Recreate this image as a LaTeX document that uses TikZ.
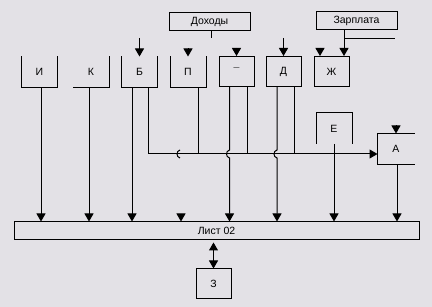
\documentclass[tikz,border=0pt]{standalone}
\usepackage{fontspec}
\setmainfont{Liberation Sans}
\usetikzlibrary{arrows.meta}
\definecolor{bg}{RGB}{227,225,230}
\begin{document}
\begin{tikzpicture}[x=1pt,y=-1pt,line width=1pt,
  font=\fontsize{10.5}{12}\selectfont,
  box/.style={minimum width=35pt,minimum height=30pt,inner sep=0pt},
  cbox/.style={box,draw},
  wbox/.style={draw,minimum width=81pt,minimum height=18pt,inner sep=0pt},
  arr/.style={-{Triangle[width=9pt,length=8pt]}},
  darr/.style={{Triangle[width=9pt,length=8pt]}-{Triangle[width=9pt,length=8pt]}}]
\fill[bg] (0,0) rectangle (432,307);
\useasboundingbox (0,0) rectangle (432,307);
% levels
\coordinate (busy) at (0,154);
\coordinate (h1) at (0,150);
\coordinate (h2) at (0,158);
% boxes
\node[box] (I) at (39.5,72) {И};
\draw (I.north west) -- (I.south west) -- (I.south east) -- (I.north east);
\node[box] (K) at (91,72) {К};
\draw (K.south west) -- (K.south east) -- (K.north east);
\node[box] (B) at (139.5,72) {Б};
\draw (B.north west) -- (B.south west) -- (B.south east) -- (B.north east);
\node[box] (P) at (188,72) {П};
\draw (P.north west) -- (P.south west) -- (P.south east) -- (P.north east);
\node[cbox] (M) at (236.5,71.5) {¯};
\node[cbox] (D) at (283.5,71.5) {Д};
\node[cbox] (Zh) at (331.5,71.5) {Ж};
\node[wbox] (dox) at (209.5,22) {Доходы};
\node[wbox] (zar) at (356.5,21) {Зарплата};
\node[box] (E) at (334,128.5) {Е};
\draw (E.south west) -- (E.north west) -- (E.north east) -- (E.south east);
\node[box,minimum width=36pt] (A) at (396,149) {А};
\draw (A.north east) -- (A.north west) -- (A.south west) -- (A.south east);
\node[draw,minimum width=405pt,minimum height=18pt,inner sep=0pt] (L) at (216.5,231) {Лист 02};
\node[cbox] (Z) at (213.5,284) {З};
% anchor points
\coordinate (i1) at ([xshift=1.5pt]I.south);
\coordinate (k1) at ([xshift=-2pt]K.south);
\coordinate (b1) at ([xshift=-7.5pt]B.south);
\coordinate (b2) at ([xshift=8.5pt]B.south);
\coordinate (p1) at ([xshift=10pt]P.south);
\coordinate (m1) at ([xshift=-7pt]M.south);
\coordinate (m2) at ([xshift=10.5pt]M.south);
\coordinate (d1) at ([xshift=-6.5pt]D.south);
\coordinate (d2) at ([xshift=10.5pt]D.south);
\coordinate (a1) at ([xshift=1pt]A.south);
\coordinate (bin) at (139.5,38);
\coordinate (din) at (283.5,38);
\coordinate (dt) at (211,38);
\coordinate (zs) at ([xshift=-12.5pt]zar.south);
\coordinate (ze) at (395,39);
\coordinate (lp) at (181,214);
\coordinate (hp) at (180,0);
% inputs on top
\draw[arr] (bin) -- (B.north);
\draw[arr] (din) -- (D.north);
\draw[arr] ([yshift=8pt]P.north) -- (P.north);
\draw[arr] ([yshift=8pt]M.north) -- (M.north);
\draw[arr] ([xshift=-11.5pt,yshift=8pt]Zh.north) -- ([xshift=-11.5pt]Zh.north);
\draw[arr] (zs) -- (zs |- Zh.north);
\draw (zs |- ze) -- (ze);
\draw (dox.south -| dt) -- (dt);
\draw[arr] ([yshift=8pt]A.north) -- (A.north);
% verticals to Лист 02
\draw[arr] (i1) -- (i1 |- L.north);
\draw[arr] (k1) -- (k1 |- L.north);
\draw[arr] (b1) -- (b1 |- L.north);
\draw[arr] (lp) -- (lp |- L.north);
\draw[arr] (m1) -- (m1 |- h1) .. controls +(-4,1) and +(-4,-1) .. (m1 |- h2) -- (m1 |- L.north);
\draw[arr] (d1) -- (d1 |- h1) .. controls +(-4,1) and +(-4,-1) .. (d1 |- h2) -- (d1 |- L.north);
\draw[arr] (E.south) -- (E.south |- L.north);
\draw[arr] (a1) -- (a1 |- L.north);
% bus
\draw[arr] (b2) |- ([yshift=-5pt]A.west);
\draw (p1) -- (p1 |- busy);
\draw (m2) -- (m2 |- busy);
\draw (d2) -- (d2 |- busy);
\draw (hp |- h1) .. controls +(-4,1) and +(-4,-1) .. (hp |- h2);
% Лист 02 <-> З
\draw[darr,shorten <=2pt] (L.south -| Z.north) -- (Z.north);
\end{tikzpicture}
\end{document}
